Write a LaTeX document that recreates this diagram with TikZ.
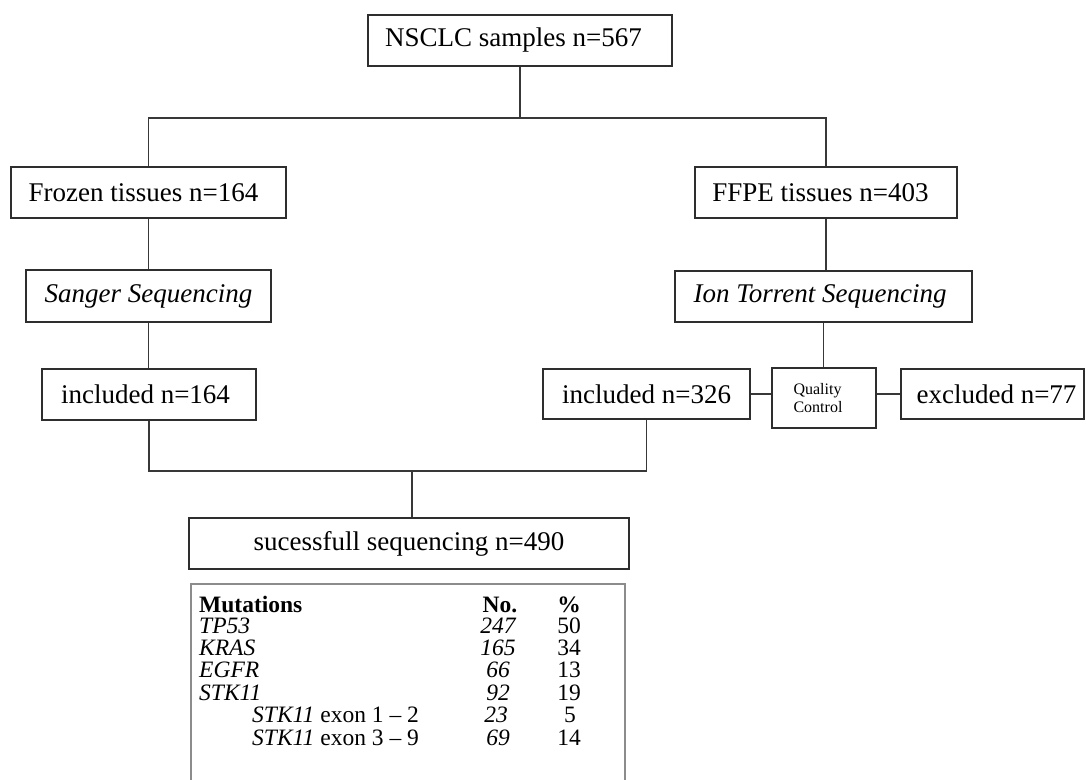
\documentclass[tikz,border=0pt]{standalone}
\usepackage{fontspec}
\setmainfont{Liberation Serif}
\begin{document}
\begin{tikzpicture}[x=1pt,y=-1pt,
  box/.style={draw=black!82, line width=1.5pt, fill=white, inner sep=0pt, font=\fontsize{27}{30}\selectfont, text=black},
  conn/.style={draw=black!78, line width=1.4pt},
  tab/.style={font=\fontsize{23.5}{26}\selectfont, inner sep=0pt, text=black}]
\useasboundingbox (0,0) rectangle (1086,779);
\fill[white] (0,0) rectangle (1086,779);

% boxes
\node[box, minimum width=304pt, minimum height=51pt] (nsclc) at (520,40.5) {\hspace*{-13pt}NSCLC samples n=567};
\node[box, minimum width=275pt, minimum height=51pt] (frozen) at (148.5,192.5) {\hspace*{-10pt}Frozen tissues n=164};
\node[box, minimum width=262pt, minimum height=51pt] (ffpe) at (826,192.5) {\hspace*{-11pt}FFPE tissues n=403};
\node[box, minimum width=245pt, minimum height=52pt] (sanger) at (148.5,296) {\itshape Sanger Sequencing};
\node[box, minimum width=297pt, minimum height=51pt] (ion) at (823.5,296.5) {\hspace*{-7pt}\itshape Ion Torrent Sequencing};
\node[box, minimum width=214pt, minimum height=51pt] (inca) at (149,394.5) {\hspace*{-7pt}included n=164};
\node[box, minimum width=207pt, minimum height=50pt] (incb) at (646.5,394) {included n=326};
\node[box, minimum width=104pt, minimum height=60pt, font=\fontsize{16}{18}\selectfont, align=left] (qc) at (824,398) {\hspace*{-12pt}Quality\\\hspace*{-12pt}Control};
\node[box, minimum width=183pt, minimum height=50pt] (excl) at (992.5,394) {\hspace*{8pt}excluded n=77};
\node[box, minimum width=440pt, minimum height=51pt] (succ) at (409,543.5) {sucessfull sequencing n=490};

% connectors
\coordinate (split) at (520,118);
\coordinate (merge) at (412,471);
\draw[conn] (nsclc.south) -- (split);
\draw[conn] (frozen.north) |- (split) -| (ffpe.north);
\draw[conn] (frozen.south) -- (sanger.north);
\draw[conn] (sanger.south) -- (sanger.south |- inca.north);
\draw[conn] (ffpe.south) -- (ffpe.south |- ion.north);
\draw[conn] (ion.south) -- (ion.south |- qc.north);
\draw[conn] (incb.east) -- (incb.east -| qc.west);
\draw[conn] (qc.east |- excl.west) -- (excl.west);
\draw[conn] (inca.south) |- (merge) -| (incb.south);
\draw[conn] (merge) -- (merge |- succ.north);

% table frame
\draw[black!45, line width=1.5pt] (191,800) -- (191,584) -- (625,584) -- (625,800);

% table content
\node[tab, anchor=base west, font=\fontsize{23.5}{26}\selectfont\bfseries] (hmut) at (199,612) {Mutations};
\node[tab, anchor=base, font=\fontsize{23.5}{26}\selectfont\bfseries] (hno) at (500,612) {No.};
\node[tab, anchor=base, font=\fontsize{23.5}{26}\selectfont\bfseries] (hpc) at (569,612) {\%};

\node[tab, anchor=base west] (r1) at (199,633.5) {\itshape TP53};
\node[tab, anchor=base] (r1n) at (498,633.5) {\itshape 247};
\node[tab, anchor=base] (r1p) at (569,633.5) {50};

\node[tab, anchor=base west] (r2) at (199,655.5) {\itshape KRAS};
\node[tab, anchor=base] (r2n) at (498,655.5) {\itshape 165};
\node[tab, anchor=base] (r2p) at (569,655.5) {34};

\node[tab, anchor=base west] (r3) at (199,677.5) {\itshape EGFR};
\node[tab, anchor=base] (r3n) at (498,677.5) {\itshape 66};
\node[tab, anchor=base] (r3p) at (569,677.5) {13};

\node[tab, anchor=base west] (r4) at (199,700) {\itshape STK11};
\node[tab, anchor=base] (r4n) at (498,700) {\itshape 92};
\node[tab, anchor=base] (r4p) at (569,700) {19};

\node[tab, anchor=base west] (r5) at (252,722.5) {\textit{STK11} exon 1 -- 2};
\node[tab, anchor=base] (r5n) at (496,722.5) {\itshape 23};
\node[tab, anchor=base] (r5p) at (570,722.5) {5};

\node[tab, anchor=base west] (r6) at (252,745.5) {\textit{STK11} exon 3 -- 9};
\node[tab, anchor=base] (r6n) at (498,745.5) {\itshape 69};
\node[tab, anchor=base] (r6p) at (569,745.5) {14};
\end{tikzpicture}
\end{document}
